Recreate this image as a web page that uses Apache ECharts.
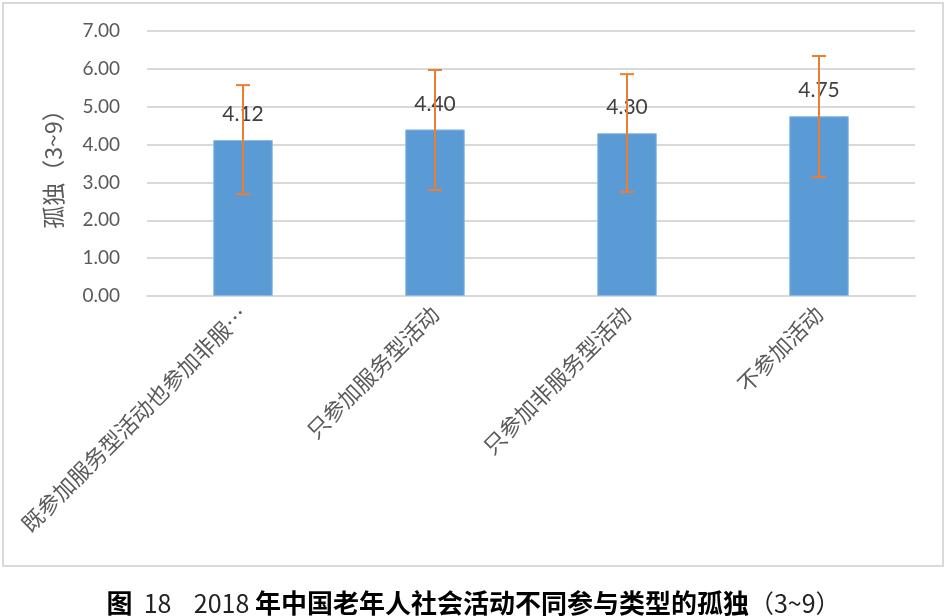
<!DOCTYPE html>
<html><head><meta charset="utf-8">
<script src="https://cdn.jsdelivr.net/npm/echarts@6/dist/echarts.min.js"></script>
<style>html,body{margin:0;padding:0;background:#fff}#c{width:947px;height:616px}</style>
</head><body><div id="c"></div>
<script>
const categories = ['既参加服务型活动也参加非服…', '只参加服务型活动', '只参加非服务型活动', '不参加活动'];
const means = [4.12, 4.40, 4.30, 4.75];
const errLow = [2.69, 2.80, 2.75, 3.14];
const errHigh = [5.57, 5.97, 5.86, 6.34];
const yTicks = [0, 1, 2, 3, 4, 5, 6, 7];

const FONT = "Lato, 'Noto Sans CJK SC', sans-serif";
const chart = echarts.init(document.getElementById('c'));
const errData = categories.map((c, i) => [i, errLow[i], errHigh[i]]);

chart.setOption({
  animation: false,
  backgroundColor: '#fff',
  textStyle: { fontFamily: FONT },
  graphic: [{
    type: 'rect', shape: { x: 3, y: 3, width: 940, height: 563 },
    style: { fill: null, stroke: '#d9d9d9', lineWidth: 2 }, z: -1
  }],
  title: {
    text: '{b|图}{n|  18    2018 }{b|年中国老年人社会活动不同参与类型的孤独}{n|（3~9）}',
    left: 'center', top: 585,
    textStyle: {
      rich: {
        b: { fontFamily: "'Noto Sans CJK SC'", fontWeight: 'bold', fontSize: 26, color: '#000' },
        n: { fontFamily: "'Noto Sans CJK SC'", fontWeight: 'normal', fontSize: 25, color: '#222' }
      }
    }
  },
  grid: { left: 147, right: 32, top: 31, bottom: 320, containLabel: false },
  xAxis: {
    type: 'category', data: categories,
    axisLine: { lineStyle: { color: '#d9d9d9', width: 2 } },
    axisTick: { show: false },
    axisLabel: { rotate: 45, interval: 0, fontSize: 22, color: '#595959', margin: 14, fontFamily: "'Noto Sans CJK SC'" }
  },
  yAxis: {
    type: 'value', min: yTicks[0], max: yTicks[yTicks.length - 1], interval: 1,
    name: '孤独（3~9）', nameLocation: 'middle', nameGap: 82, nameRotate: 90,
    nameTextStyle: { fontSize: 23, color: '#595959', fontFamily: "'Noto Sans CJK SC'" },
    axisLine: { show: false }, axisTick: { show: false },
    axisLabel: { fontSize: 19, color: '#595959', margin: 27, formatter: v => v.toFixed(2) },
    splitLine: { lineStyle: { color: '#d9d9d9', width: 2 } }
  },
  series: [{
    type: 'bar', data: means, barWidth: '31%',
    itemStyle: { color: '#5B9BD5', borderColor: '#8fb9e3', borderWidth: 1 },
    label: { show: true, position: 'top', distance: 15, fontSize: 21, color: '#404040', formatter: p => p.value.toFixed(2) },
    z: 2
  }, {
    type: 'custom', data: errData, z: 5,
    renderItem: (params, api) => {
      const x = api.value(0);
      const lo = api.coord([x, api.value(1)]);
      const hi = api.coord([x, api.value(2)]);
      const w = 7;
      const st = { stroke: '#ED7D31', lineWidth: 2 };
      return { type: 'group', children: [
        { type: 'line', shape: { x1: lo[0], y1: lo[1], x2: hi[0], y2: hi[1] }, style: st },
        { type: 'line', shape: { x1: lo[0] - w, y1: lo[1], x2: lo[0] + w, y2: lo[1] }, style: st },
        { type: 'line', shape: { x1: hi[0] - w, y1: hi[1], x2: hi[0] + w, y2: hi[1] }, style: st }
      ]};
    }
  }]
});
</script></body></html>
